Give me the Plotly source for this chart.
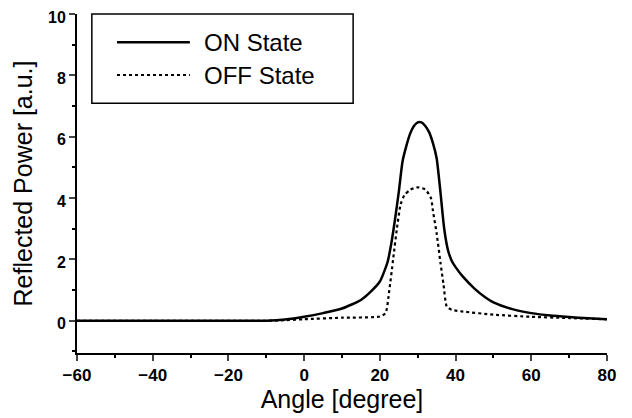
import plotly.graph_objects as go

angle_on = [-60, -40, -20, -10, -5, 0, 5, 10, 15, 18, 20, 22, 23, 24, 25, 26, 27, 28, 29, 30, 31, 32, 33, 34, 35, 36, 37, 38, 39, 40, 42, 45, 48, 50, 55, 60, 65, 70, 75, 80]
power_on = [0, 0, 0, 0, 0.04, 0.13, 0.25, 0.40, 0.68, 1.0, 1.28, 1.9, 2.5, 3.3, 4.2, 5.2, 5.7, 6.1, 6.35, 6.47, 6.47, 6.35, 6.15, 5.8, 5.3, 4.2, 3.0, 2.3, 1.95, 1.75, 1.43, 1.05, 0.75, 0.6, 0.38, 0.25, 0.17, 0.12, 0.08, 0.05]

angle_off = [-60, -40, -20, -10, -5, 0, 10, 20, 21.5, 22.5, 23.5, 24.5, 25.5, 26.5, 28, 30, 32, 33.5, 34, 35, 36, 36.8, 37.7, 39, 42, 50, 60, 70, 80]
power_off = [0, 0, 0, 0, 0.02, 0.05, 0.1, 0.14, 0.25, 1.0, 2.0, 3.0, 3.8, 4.1, 4.27, 4.35, 4.28, 4.0, 3.6, 2.85, 1.9, 1.2, 0.46, 0.36, 0.3, 0.2, 0.13, 0.09, 0.05]

series_names = ["ON State", "OFF State"]
x_ticks = [-60, -40, -20, 0, 20, 40, 60, 80]
y_ticks = [0, 2, 4, 6, 8, 10]

FONT = "Arial, Liberation Sans, sans-serif"
styles = [dict(color="black", width=2.5), dict(color="black", width=2.2, dash="dot")]

fig = go.Figure()
for xs, ys, name, st in zip([angle_on, angle_off], [power_on, power_off], series_names, styles):
    fig.add_trace(go.Scatter(x=xs, y=ys, name=name, mode="lines", showlegend=False,
                             line=dict(shape="spline", smoothing=0.6, **st)))

# legend box drawn in plot-area (paper) coordinates
fig.add_shape(type="rect", xref="paper", yref="paper", x0=0.028, x1=0.521, y0=0.737, y1=1.0,
              line=dict(color="black", width=1.5), fillcolor="white", layer="below")
for yy, name, st in zip([0.917, 0.820], series_names, styles):
    fig.add_shape(type="line", xref="paper", yref="paper", x0=0.0755, x1=0.213, y0=yy, y1=yy,
                  line=st)
    fig.add_annotation(xref="paper", yref="paper", x=0.236, y=yy, text=name, showarrow=False,
                       xanchor="left", yanchor="middle", font=dict(size=24, family=FONT, color="black"))

fig.update_layout(
    width=624, height=410,
    margin=dict(l=69, r=25, t=6, b=65, autoexpand=False),
    paper_bgcolor="white", plot_bgcolor="white",
    font=dict(family=FONT, color="black"),
    xaxis=dict(range=[-60, 80], tickvals=x_ticks, ticks="outside", ticklen=6, tickwidth=1.5,
               showline=True, linecolor="black", linewidth=2, showgrid=False, zeroline=False,
               automargin=False, ticklabeloverflow="allow",
               tickfont=dict(size=17, family=FONT, weight="bold"),
               minor=dict(dtick=10, ticks="outside", ticklen=3, tickcolor="black"),
               title=dict(text="Angle [degree]", font=dict(size=25, family=FONT), standoff=4)),
    yaxis=dict(range=[-1.05, 10], tickvals=y_ticks, ticks="outside", ticklen=6, tickwidth=1.5,
               showline=True, linecolor="black", linewidth=2, showgrid=False, zeroline=False,
               automargin=False, ticklabeloverflow="allow", ticklabelshift=3,
               tickfont=dict(size=16, family=FONT, weight="bold"),
               minor=dict(dtick=1, ticks="outside", ticklen=3, tickcolor="black"),
               title=dict(text="Reflected Power [a.u.]", font=dict(size=25, family=FONT), standoff=8)),
)

fig.write_html("out.html")
